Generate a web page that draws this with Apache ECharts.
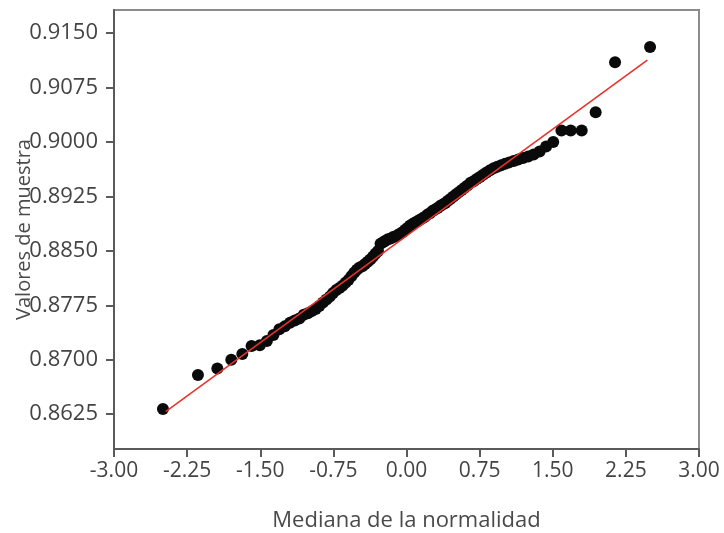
<!DOCTYPE html>
<html>
<head>
<meta charset="utf-8">
<script src="https://cdn.jsdelivr.net/npm/echarts@6/dist/echarts.min.js"></script>
<style>
  html, body { margin: 0; padding: 0; background: #ffffff; }
  #chart { width: 724px; height: 533px; }
</style>
</head>
<body>
<div id="chart"></div>
<script>
// Normal scores (medians of the normal order statistics), one per observation
const normalScores = [
  -2.498, -2.139, -1.940, -1.797, -1.684, -1.589, -1.505, -1.432, -1.365, -1.304,
  -1.248, -1.195, -1.146, -1.099, -1.054, -1.012, -0.971, -0.931, -0.894, -0.857,
  -0.821, -0.786, -0.753, -0.720, -0.688, -0.657, -0.626, -0.596, -0.566, -0.537,
  -0.509, -0.481, -0.453, -0.425, -0.398, -0.371, -0.345, -0.319, -0.292, -0.266,
  -0.241, -0.215, -0.190, -0.164, -0.138, -0.113, -0.088, -0.063, -0.038, -0.013,
   0.013,  0.038,  0.063,  0.088,  0.113,  0.138,  0.164,  0.190,  0.215,  0.241,
   0.266,  0.292,  0.319,  0.345,  0.371,  0.398,  0.425,  0.453,  0.481,  0.509,
   0.537,  0.566,  0.596,  0.626,  0.657,  0.688,  0.720,  0.753,  0.786,  0.821,
   0.857,  0.894,  0.931,  0.971,  1.012,  1.054,  1.099,  1.146,  1.195,  1.248,
   1.304,  1.365,  1.432,  1.505,  1.589,  1.684,  1.797,  1.940,  2.139,  2.498
];

// Ordered sample values
const sampleValues = [
  0.8632, 0.8679, 0.8688, 0.8700, 0.8708, 0.8719, 0.8720, 0.8726, 0.8734, 0.8742,
  0.8746, 0.8751, 0.8754, 0.8757, 0.8762, 0.8764, 0.8767, 0.8770, 0.8774, 0.8779,
  0.8783, 0.8787, 0.8792, 0.8796, 0.8799, 0.8802, 0.8806, 0.8810, 0.8815, 0.8820,
  0.8824, 0.8827, 0.8829, 0.8832, 0.8835, 0.8838, 0.8842, 0.8846, 0.8850, 0.8860,
  0.8862, 0.8864, 0.8866, 0.8867, 0.8869, 0.8870, 0.8872, 0.8874, 0.8876, 0.8879,
  0.8882, 0.8885, 0.8887, 0.8889, 0.8891, 0.8893, 0.8895, 0.8897, 0.8900, 0.8902,
  0.8905, 0.8907, 0.8909, 0.8912, 0.8914, 0.8916, 0.8919, 0.8922, 0.8925, 0.8928,
  0.8931, 0.8934, 0.8937, 0.8940, 0.8944, 0.8946, 0.8949, 0.8952, 0.8955, 0.8958,
  0.8961, 0.8964, 0.8966, 0.8968, 0.8970, 0.8972, 0.8974, 0.8976, 0.8978, 0.8980,
  0.8983, 0.8987, 0.8994, 0.9000, 0.9016, 0.9016, 0.9016, 0.9041, 0.9110, 0.9131
];

// Reference line end points
const fitLineX = [-2.47, 2.47];
const fitLineY = [0.86286, 0.91130];

// Axis tick values
const xTicks = [-3.00, -2.25, -1.50, -0.75, 0.00, 0.75, 1.50, 2.25, 3.00];
const yTicks = [0.8625, 0.8700, 0.8775, 0.8850, 0.8925, 0.9000, 0.9075, 0.9150];

const FONT = "'Open Sans', 'Noto Sans', 'DejaVu Sans', sans-serif";

const points = normalScores.map((x, i) => [x, sampleValues[i]]);
const linePts = fitLineX.map((x, i) => [x, fitLineY[i]]);

const chart = echarts.init(document.getElementById('chart'), null, { renderer: 'canvas' });

chart.setOption({
  backgroundColor: '#ffffff',
  animation: false,
  grid: {
    left: 114, right: 25, top: 10, bottom: 84,
    outerBoundsMode: 'none',
    containLabel: false,
    show: true,
    borderColor: '#8c8c8c',
    borderWidth: 2,
    backgroundColor: 'transparent'
  },
  xAxis: {
    type: 'value',
    min: xTicks[0],
    max: xTicks[xTicks.length - 1],
    interval: 0.75,
    name: 'Mediana de la normalidad',
    nameLocation: 'middle',
    nameGap: 61,
    nameMoveOverlap: false,
    nameTextStyle: { fontFamily: FONT, fontSize: 22, color: '#4a4a4a' },
    axisLine: { show: true, onZero: false, lineStyle: { color: '#5a5a5a', width: 2 } },
    axisTick: { show: true, inside: false, length: 8, lineStyle: { color: '#5a5a5a', width: 2 } },
    axisLabel: {
      show: true,
      margin: 12,
      showMinLabel: true,
      showMaxLabel: true,
      fontFamily: FONT,
      fontSize: 21,
      color: '#444444',
      formatter: v => v.toFixed(2)
    },
    splitLine: { show: false }
  },
  yAxis: {
    type: 'value',
    min: 0.8577,
    max: 0.9182,
    name: 'Valores de muestra',
    nameLocation: 'middle',
    nameGap: 80,
    nameMoveOverlap: false,
    nameRotate: 90,
    nameTextStyle: { fontFamily: FONT, fontSize: 20, color: '#4a4a4a' },
    axisLine: { show: true, onZero: false, lineStyle: { color: '#5a5a5a', width: 2 } },
    axisTick: { show: true, inside: false, length: 8, customValues: yTicks, lineStyle: { color: '#5a5a5a', width: 2 } },
    axisLabel: {
      show: true,
      margin: 16,
      customValues: yTicks,
      fontFamily: FONT,
      fontSize: 22,
      color: '#444444',
      formatter: v => v.toFixed(4)
    },
    splitLine: { show: false }
  },
  series: [
    {
      type: 'scatter',
      data: points,
      symbol: 'circle',
      symbolSize: 12,
      itemStyle: { color: '#0a0a0a', opacity: 1 },
      z: 2
    },
    {
      type: 'line',
      data: linePts,
      symbol: 'none',
      lineStyle: { color: '#e8322c', width: 1.6 },
      z: 3
    }
  ]
});
</script>
</body>
</html>
